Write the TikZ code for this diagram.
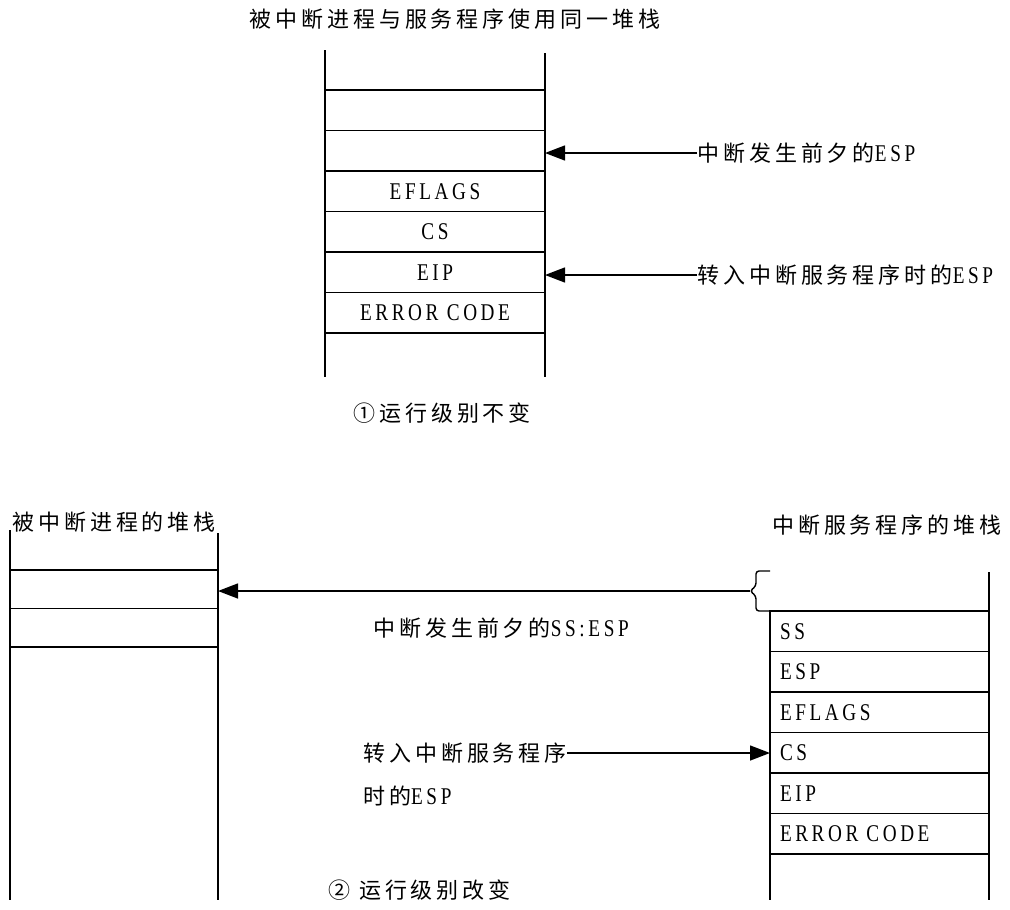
\documentclass[tikz,border=0pt]{standalone}
\usepackage{fontspec}
\setmainfont[FakeStretch=0.8,LetterSpace=15]{Liberation Serif}
\newfontfamily\cjk[LetterSpace=18]{Noto Sans CJK SC}
\usepackage{tikz}
\usetikzlibrary{arrows.meta, positioning, calc}
\newcommand{\zh}[1]{{\cjk\fontsize{22pt}{26pt}\selectfont #1}}

\begin{document}
\begin{tikzpicture}[x=1pt, y=1pt,
    cell/.style={rectangle, draw, line width=1.4pt, minimum width=220pt, minimum height=40.5pt,
                 inner sep=0pt, outer sep=0pt, font=\fontsize{24pt}{28pt}\selectfont},
    lcell/.style={cell, minimum width=219pt, text width=199pt, align=left, inner xsep=10pt},
    lbl/.style={inner sep=0pt, font=\fontsize{24pt}{28pt}\selectfont},
    wall/.style={line width=1.4pt},
    arr/.style={-{Triangle[length=20pt, width=15pt]}, line width=1.4pt}
]
\useasboundingbox (0,0) rectangle (1010,-910);

% shared stack
\node[lbl] (title1) at (455,-19) {\zh{被中断进程与服务程序使用同一堆栈}};
\node[cell, anchor=north west] (r1) at (325,-90) {};
\node[cell, below=0pt of r1] (r2) {};
\node[cell, below=0pt of r2] (r3) {EFLAGS};
\node[cell, below=0pt of r3] (r4) {CS};
\node[cell, below=0pt of r4] (r5) {EIP};
\node[cell, below=0pt of r5] (r6) {ERROR CODE};
\draw[wall] ($(r1.north west)+(0,40)$) -- ($(r6.south west)+(0,-44)$);
\draw[wall] ($(r1.north east)+(0,37)$) -- ($(r6.south east)+(0,-44)$);

\node[lbl, anchor=west] (before) at (697,-153) {\zh{中断发生前夕的}ESP};
\node[lbl, anchor=west] (entry) at (697,-275) {\zh{转入中断服务程序时的}ESP};
\draw[arr] (before.west) -- (before.west -| r2.east);
\draw[arr] (entry.west) -- (entry.west -| r5.east);
\node[lbl, anchor=west] (cap1) at (353,-413) {\zh{①运行级别不变}};

% interrupted process stack
\node[lbl, anchor=west] (title2) at (12,-522) {\zh{被中断进程的堆栈}};
\node[cell, minimum width=208pt, minimum height=38.5pt, anchor=north west] (l1) at (10,-570) {};
\node[cell, minimum width=208pt, minimum height=38.5pt, below=0pt of l1] (l2) {};
\draw[wall] ($(l1.north west)+(0,40)$) -- ($(l2.south west)+(0,-253)$);
\draw[wall] ($(l1.north east)+(0,37)$) -- ($(l2.south east)+(0,-253)$);

% handler stack
\node[lbl, anchor=east] (title3) at (1002,-525) {\zh{中断服务程序的堆栈}};
\node[lcell, anchor=north west] (k1) at (770,-611) {SS};
\node[lcell, below=0pt of k1] (k2) {ESP};
\node[lcell, below=0pt of k2] (k3) {EFLAGS};
\node[lcell, below=0pt of k3] (k4) {CS};
\node[lcell, below=0pt of k4] (k5) {EIP};
\node[lcell, below=0pt of k5] (k6) {ERROR CODE};
\draw[wall] (k1.north west) -- ($(k6.south west)+(0,-46)$);
\draw[wall] ($(k1.north east)+(0,39)$) -- ($(k6.south east)+(0,-46)$);

% brace over the old SS:ESP slot
\draw[wall, rounded corners=3pt] ($(k1.north west)+(0,40)$) -- ++(-14,0) -- ++(0,-15)
    -- ++(-6,-5) coordinate (tip) -- ++(6,-5) -- ++(0,-15) -- (k1.north west);
\draw[arr] (tip) -- (tip -| l1.east);
\node[lbl, anchor=west] (ssesp) at (373,-628) {\zh{中断发生前夕的}SS:ESP};

\node[lbl, anchor=west] (into) at (363,-753) {\zh{转入中断服务程序}};
\node[lbl, anchor=west] (into2) at (363,-796) {\zh{时的}ESP};
\draw[arr] (into.east) -- (into.east -| k4.west);
\node[lbl, anchor=west] (cap2) at (328,-890) {\zh{② 运行级别改变}};
\end{tikzpicture}
\end{document}
